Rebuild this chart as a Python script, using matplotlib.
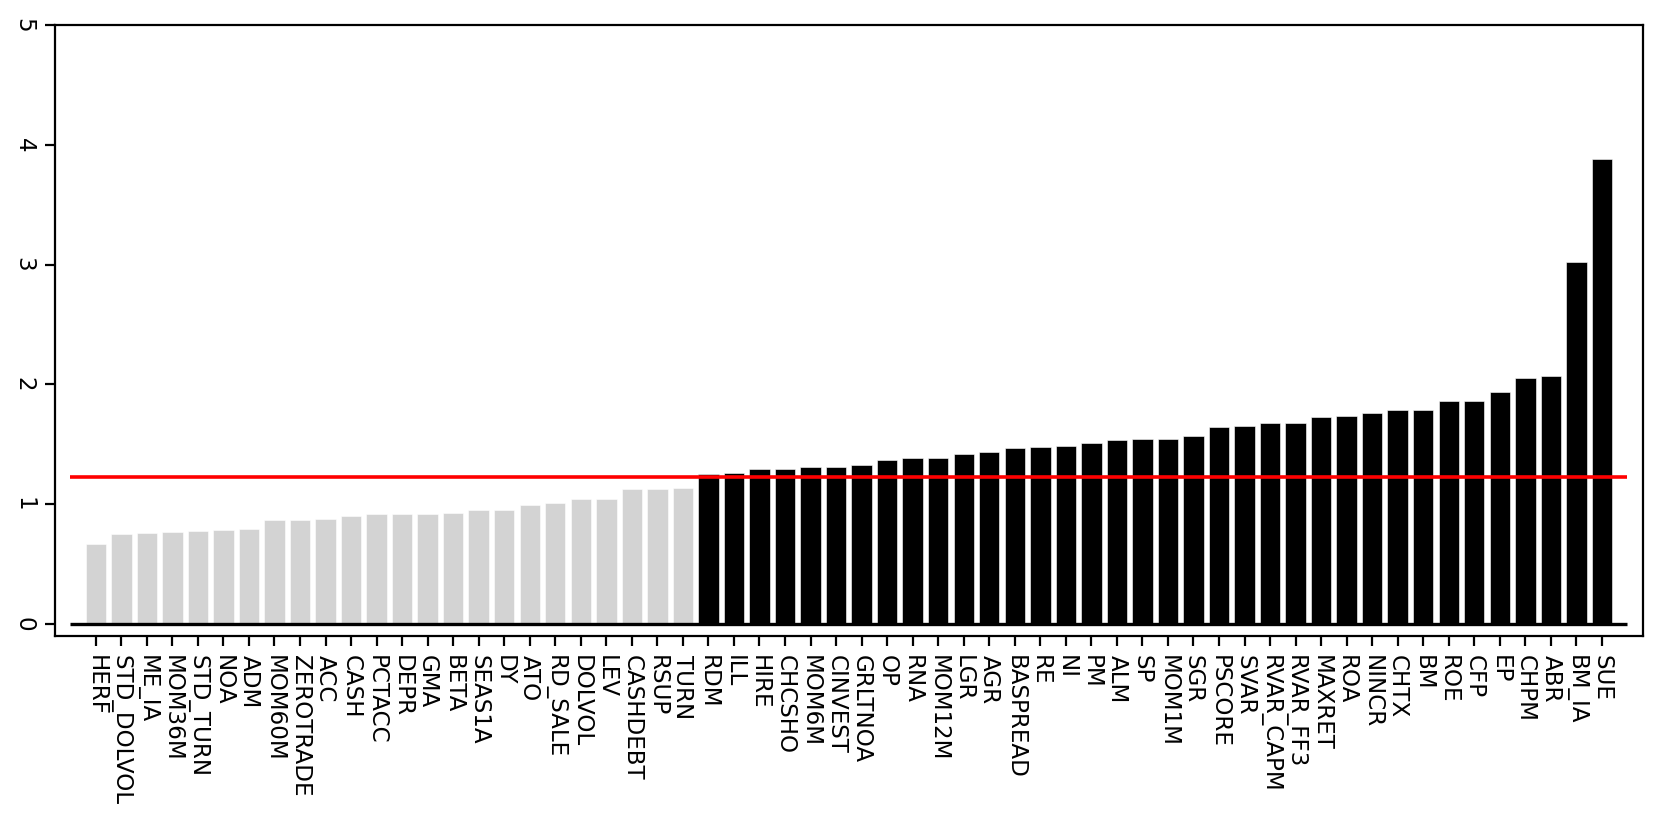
import numpy as np
import matplotlib
matplotlib.use("Agg")
import matplotlib.pyplot as plt

# factor names, sorted by value
names = [
    "HERF", "STD_DOLVOL", "ME_IA", "MOM36M", "STD_TURN", "NOA", "ADM", "MOM60M",
    "ZEROTRADE", "ACC", "CASH", "PCTACC", "DEPR", "GMA", "BETA", "SEAS1A", "DY",
    "ATO", "RD_SALE", "DOLVOL", "LEV", "CASHDEBT", "RSUP", "TURN", "RDM", "ILL",
    "HIRE", "CHCSHO", "MOM6M", "CINVEST", "GRLTNOA", "OP", "RNA", "MOM12M", "LGR",
    "AGR", "BASPREAD", "RE", "NI", "PM", "ALM", "SP", "MOM1M", "SGR", "PSCORE",
    "SVAR", "RVAR_CAPM", "RVAR_FF3", "MAXRET", "ROA", "NINCR", "CHTX", "BM", "ROE",
    "CFP", "EP", "CHPM", "ABR", "BM_IA", "SUE",
]
values = [
    0.667, 0.755, 0.761, 0.769, 0.780, 0.783, 0.789, 0.864,
    0.866, 0.877, 0.905, 0.916, 0.916, 0.922, 0.930, 0.953, 0.953,
    0.997, 1.014, 1.041, 1.041, 1.125, 1.127, 1.139, 1.249, 1.258,
    1.294, 1.297, 1.308, 1.308, 1.325, 1.372, 1.383, 1.386, 1.417,
    1.436, 1.467, 1.475, 1.486, 1.511, 1.536, 1.541, 1.544, 1.572, 1.644,
    1.650, 1.675, 1.680, 1.725, 1.739, 1.764, 1.783, 1.783, 1.858,
    1.861, 1.939, 2.053, 2.072, 3.025, 3.883,
]
threshold = 1.225

vals = np.array(values)
x = np.arange(len(vals))
colors = np.where(vals > threshold, "black", "lightgray")

fig = plt.figure(figsize=(8.3, 4.11), dpi=200)
ax = fig.add_axes([0.0331, 0.2263, 0.9565, 0.7433])

ax.bar(x, vals, width=0.8, color=colors, edgecolor="white", linewidth=0.2)
ax.hlines(0, -1, len(vals), color="black", lw=1.2)
ax.hlines(threshold, -1, len(vals), color="red", lw=1.3)

ax.set_xlim(-1.6, len(vals) - 1 + 1.6)
ax.set_ylim(-0.1, 5)
ax.set_yticks(range(6))
ax.set_xticks(x)
ax.set_xticklabels(names, rotation=270, fontsize=8.3)
ax.tick_params(axis="y", labelrotation=270, labelsize=8.3)
for lab in ax.get_yticklabels():
    lab.set_va("center")

fig.savefig("out.png", dpi=200)
